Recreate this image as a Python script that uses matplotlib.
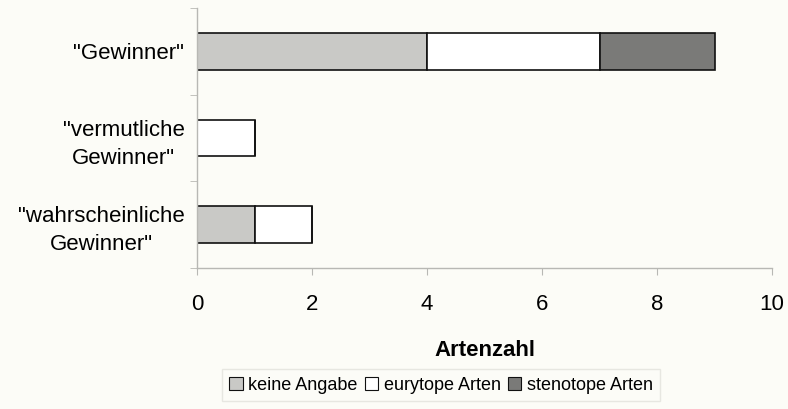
import matplotlib.pyplot as plt
import numpy as np

plt.rcParams["font.family"] = ["Liberation Sans", "DejaVu Sans"]

categories = ['"Gewinner"', '"vermutliche\nGewinner"', '"wahrscheinliche\nGewinner"']
keine_angabe = [4, 0, 1]
eurytope = [3, 1, 1]
stenotope = [2, 0, 0]
series_names = ["keine Angabe", "eurytope Arten", "stenotope Arten"]
colors = ["#c9c9c6", "#ffffff", "#7a7a78"]
xticks = [0, 2, 4, 6, 8, 10]

bg = "#fcfcf7"
axis_col = "#b8b8b4"

fig = plt.figure(figsize=(7.88, 4.09), dpi=100, facecolor=bg)
ax = fig.add_axes([197 / 788, 1 - 268 / 409, 575 / 788, 260 / 409], facecolor=bg)

y = np.arange(len(categories))
left = np.zeros(len(categories))
for vals, name, col in zip([keine_angabe, eurytope, stenotope], series_names, colors):
    vals = np.array(vals, dtype=float)
    ax.barh(y, vals, left=left, height=0.42, color=col, edgecolor="#111111",
            linewidth=1.2, label=name)
    left += vals

ax.set_xlim(0, 10)
ax.set_ylim(2.5, -0.5)
ax.set_xticks(xticks)
ax.set_xticklabels([str(v) for v in xticks], fontsize=16)
ax.set_yticks(y)
ax.set_yticklabels(categories, fontsize=16, ha="right")
ax.tick_params(axis="y", length=0, pad=9)
ax.set_yticks([-0.5, 0.5, 1.5, 2.5], minor=True)
ax.tick_params(axis="y", which="minor", length=5, color=axis_col, direction="out")
ax.tick_params(axis="x", length=5, color=axis_col, direction="out", pad=14)
for lab in ax.get_yticklabels():
    lab.set_multialignment("center")
    lab.set_linespacing(1.45)

for side in ["top", "right"]:
    ax.spines[side].set_visible(False)
for side in ["left", "bottom"]:
    ax.spines[side].set_color(axis_col)
    ax.spines[side].set_linewidth(1.0)

ax.set_xlabel("Artenzahl", fontsize=16, fontweight="bold", labelpad=18)

leg = fig.legend(loc="center", bbox_to_anchor=(441 / 788, 1 - 385 / 409), ncol=3,
                 fontsize=13, frameon=True, fancybox=False, edgecolor="#e2e2dc",
                 facecolor=bg, handlelength=0.75, handleheight=0.75,
                 handletextpad=0.3, columnspacing=0.4, borderpad=0.4)
for h in leg.legend_handles:
    h.set_linewidth(0.8)

fig.savefig("out.png", dpi=100, facecolor=bg)
